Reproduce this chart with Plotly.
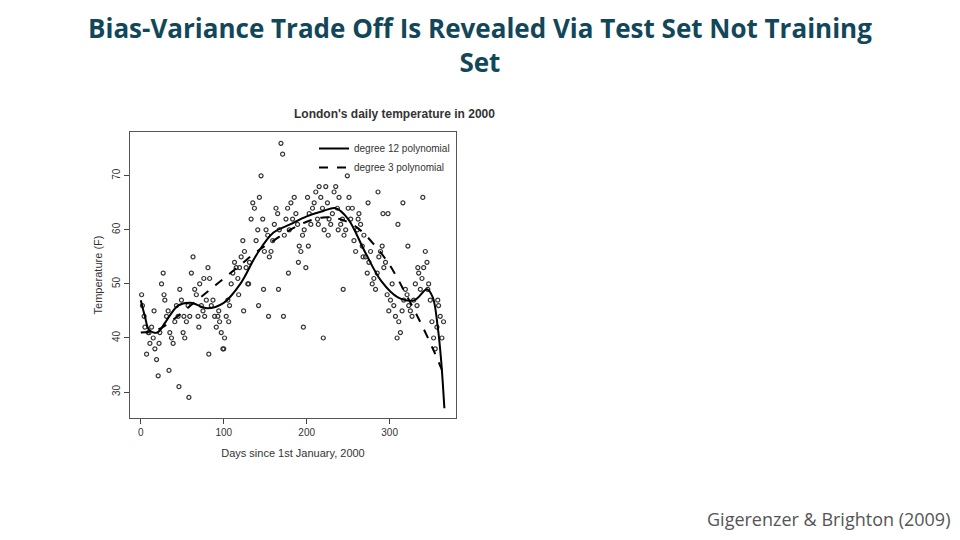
import plotly.graph_objects as go

# curves
deg12_days = [0, 5, 10, 20, 30, 45, 60, 80, 100, 120, 140, 160, 180, 200, 220, 235, 250, 270, 290, 310, 330, 345, 352, 358, 362, 366]
deg12_temp = [47, 44, 41.5, 41, 43, 46, 46.5, 45.5, 46.5, 50, 55.5, 59.5, 61, 62.5, 63.5, 64, 62, 56, 50.5, 47.5, 47, 49, 47.5, 42, 36, 27]
deg3_days = [0, 20, 40, 60, 80, 100, 120, 140, 160, 180, 200, 220, 240, 260, 280, 300, 320, 340, 355, 366]
deg3_temp = [41, 41.5, 43.5, 46, 48.5, 51, 53.5, 56, 58, 60, 61.5, 62.3, 62, 60.5, 57.5, 53.5, 48, 42, 37, 33]

obs_days = [1, 2, 4, 5, 7, 9, 11, 13, 15, 17, 19, 21, 23, 25, 27, 29, 31, 33, 35, 37, 39, 41, 43, 45, 47,
            49, 51, 53, 55, 57, 59, 61, 63, 65, 67, 69, 71, 73, 75, 77, 79, 81, 83, 85, 87, 89, 91, 93, 95, 97,
            99, 101, 103, 105, 107, 109, 111, 113, 115, 117, 119, 121, 123, 125, 127, 129, 131, 133, 135, 137,
            139, 141, 143, 145, 147, 149, 151, 153, 155, 157, 159, 161, 163, 165, 167, 169, 171, 173, 175, 177,
            179, 181, 183, 185, 187, 189, 191, 193, 195, 197, 199, 201, 203, 205, 207, 209, 211, 213, 215, 217,
            219, 221, 223, 225, 227, 229, 231, 233, 235, 237, 239, 241, 243, 245, 247, 249, 251, 253, 255, 257,
            259, 261, 263, 265, 267, 269, 271, 273, 275, 277, 279, 281, 283, 285, 287, 289, 291, 293, 295, 297,
            299, 301, 303, 305, 307, 309, 311, 313, 315, 317, 319, 321, 323, 325, 327, 329, 331, 333, 335, 337,
            339, 341, 343, 345, 347, 349, 351, 353, 355, 357, 359, 361, 363, 365,
            10, 22, 34, 46, 58, 70, 82, 94, 106, 118, 130, 142, 154, 166, 178, 190, 202, 214, 226, 238, 250, 262,
            274, 286, 298, 310, 322, 334, 346, 358, 16, 28, 52, 76, 100, 124, 148, 172, 196, 220, 244, 268, 292, 316, 340]
obs_temp = [48, 46, 44, 42, 37, 41, 39, 42, 40, 38, 36, 33, 41, 50, 52, 47, 44, 45, 41, 40, 39, 43, 46, 44, 49,
            47, 41, 40, 43, 46, 44, 52, 55, 49, 48, 44, 50, 46, 45, 44, 47, 53, 51, 46, 47, 44, 42, 44, 43, 41,
            38, 40, 44, 47, 46, 50, 52, 54, 53, 51, 53, 55, 58, 56, 53, 50, 54, 62, 65, 64, 58, 60, 66, 70, 62,
            56, 60, 59, 55, 56, 58, 61, 64, 63, 60, 76, 74, 59, 62, 64, 60, 65, 62, 66, 63, 61, 57, 56, 59, 60,
            53, 66, 63, 61, 64, 65, 67, 62, 68, 66, 64, 60, 68, 65, 62, 61, 63, 67, 68, 64, 66, 61, 62, 59, 60,
            70, 66, 62, 64, 58, 56, 60, 63, 61, 57, 59, 55, 52, 54, 56, 50, 51, 49, 52, 55, 56, 57, 53, 54, 48,
            45, 47, 50, 46, 44, 40, 43, 41, 45, 47, 49, 48, 46, 45, 44, 47, 50, 46, 52, 49, 51, 53, 56, 54, 50,
            47, 43, 40, 38, 42, 46, 44, 40, 43, 41, 39, 34, 31, 29,
            42, 37, 45, 43, 48, 50, 46, 44, 49, 52, 54, 57, 61, 59, 60, 64, 62, 65, 67, 63, 61, 57,
            53, 49, 47, 45, 48, 44, 51, 38, 45, 49, 44, 42, 40, 49, 55, 63, 65, 66, 58, 55, 53, 55, 45]

W, H, OFF = 944, 524, 8  # page body margin shifts the figure by 8px


def px(x):
    return (x - OFF) / W


def py(y):
    return 1 - (y - OFF) / H


fig = go.Figure()

fig.add_trace(go.Scatter(
    x=obs_days, y=obs_temp, mode='markers', showlegend=False,
    marker=dict(symbol='circle-open', size=4, color='#333333', line=dict(width=1.2))
))
fig.add_trace(go.Scatter(
    x=deg12_days, y=deg12_temp, mode='lines', name='degree 12 polynomial',
    line=dict(color='black', width=2, shape='spline')
))
fig.add_trace(go.Scatter(
    x=deg3_days, y=deg3_temp, mode='lines', name='degree 3 polynomial',
    line=dict(color='black', width=2, dash='dash', shape='spline')
))

fig.update_layout(
    width=W, height=H,
    paper_bgcolor='white', plot_bgcolor='white',
    margin=dict(l=0, r=0, t=0, b=0, autoexpand=False),
    showlegend=True,
    legend=dict(x=px(455), y=py(134), xanchor='right', yanchor='top', bgcolor='rgba(0,0,0,0)',
                tracegroupgap=0, itemwidth=30,
                font=dict(family='Liberation Sans, Arial', size=10, color='#333333')),
    font=dict(family='Liberation Sans, Arial', size=10, color='#333333'),
    xaxis=dict(domain=[px(130), px(456)], range=[-13, 380], tickvals=[0, 100, 200, 300],
               automargin=False,
               showgrid=False, zeroline=False, showline=True, mirror=True, linecolor='#555555',
               ticks='outside', ticklen=5,
               title=dict(text='Days since 1st January, 2000', font=dict(size=11), standoff=12)),
    yaxis=dict(domain=[py(418), py(132)], range=[25.2, 78.1], tickvals=[30, 40, 50, 60, 70],
               automargin=False,
               showgrid=False, zeroline=False, showline=True, mirror=True, linecolor='#555555',
               ticks='outside', ticklen=5, tickangle=-90,
               title=dict(text='Temperature (F)', font=dict(size=11), standoff=6)),
)

fig.add_annotation(x=px(480), y=py(8), xref='paper', yref='paper', yanchor='top', showarrow=False,
                   text='<b>Bias-Variance Trade Off Is Revealed Via Test Set Not Training<br>Set</b>',
                   font=dict(family='Open Sans, Calibri, sans-serif', size=26, color='#12475a'))
fig.add_annotation(x=px(292), y=py(105), xref='paper', yref='paper', showarrow=False,
                   text="<b>London's daily temperature in 2000</b>",
                   font=dict(family='Liberation Sans, Arial', size=12, color='#333333'))
fig.add_annotation(x=px(952), y=py(533), xref='paper', yref='paper', xanchor='right', yanchor='bottom',
                   showarrow=False, text='Gigerenzer & Brighton (2009)',
                   font=dict(family='Open Sans, Calibri, sans-serif', size=18, color='#555555'))

fig.write_html("out.html")
